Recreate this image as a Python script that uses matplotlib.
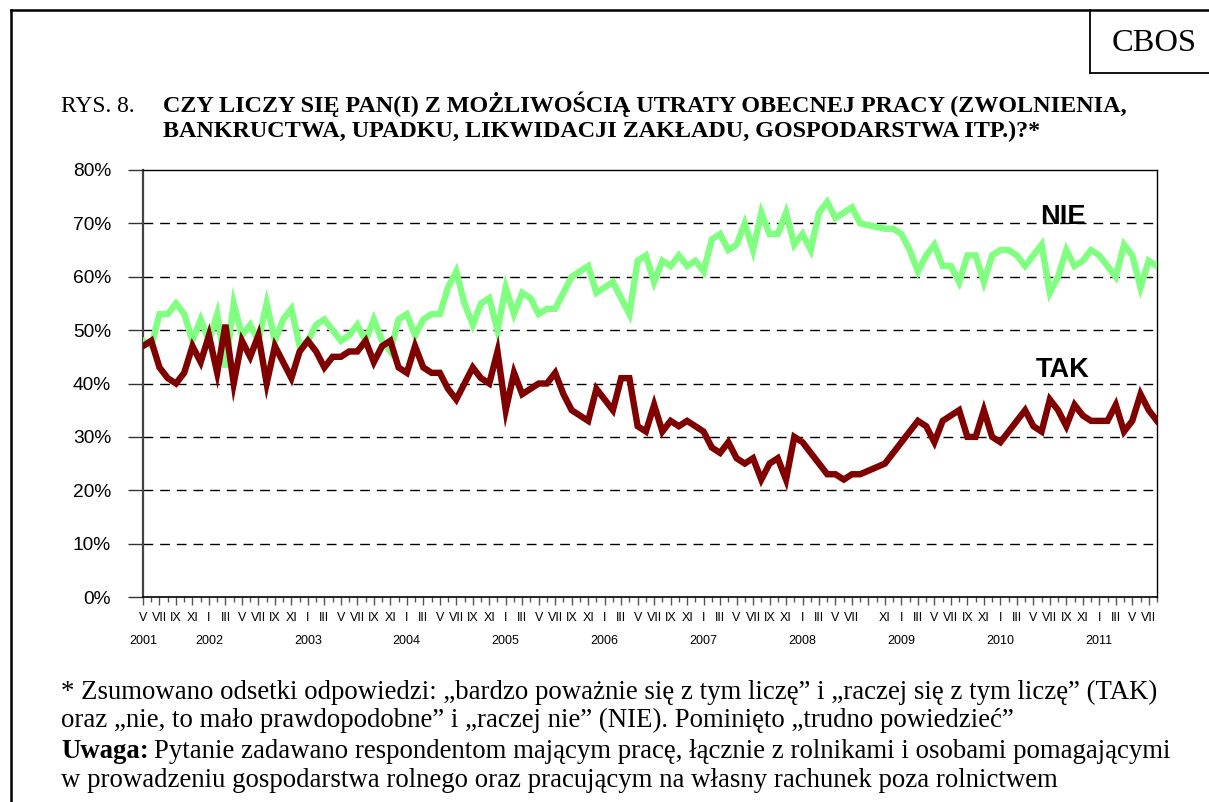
import numpy as np
import matplotlib
matplotlib.use("Agg")
import matplotlib.pyplot as plt
from matplotlib.lines import Line2D
import matplotlib.transforms as mtransforms

W, H = 1209, 802

# monthly surveys V 2001 .. VIII 2011 (IX and X 2008 missing)
roman = ["I", "II", "III", "IV", "V", "VI", "VII", "VIII", "IX", "X", "XI", "XII"]
start_year, start_month = 2001, 5
n_points = 124
skip_labels = [88]  # IX 2008 has no survey

nie = [48, 47, 53, 53, 55, 53, 48, 52, 48, 53, 43, 55, 49, 51, 48, 55, 48, 52, 54, 47,
       48, 51, 52, 50, 48, 49, 51, 48, 52, 48, 46, 52, 53, 49, 52, 53, 53, 58, 61, 55,
       51, 55, 56, 50, 58, 53, 57, 56, 53, 54, 54, 57, 60, 61, 62, 57, 58, 59, 56, 53,
       63, 64, 59, 63, 62, 64, 62, 63, 61, 67, 68, 65, 66, 70, 65, 72, 68, 68, 72, 66,
       68, 65, 72, 74, 71, 72, 73, 70, np.nan, np.nan, 69, 69, 68, 65, 61, 64, 66, 62, 62, 59,
       64, 64, 59, 64, 65, 65, 64, 62, 64, 66, 57, 60, 65, 62, 63, 65, 64, 62, 60, 66,
       64, 58, 63, 62]
tak = [47, 48, 43, 41, 40, 42, 47, 44, 49, 42, 51, 40, 48, 45, 49, 40, 47, 44, 41, 46,
       48, 46, 43, 45, 45, 46, 46, 48, 44, 47, 48, 43, 42, 47, 43, 42, 42, 39, 37, 40,
       43, 41, 40, 46, 35, 42, 38, 39, 40, 40, 42, 38, 35, 34, 33, 39, 37, 35, 41, 41,
       32, 31, 36, 31, 33, 32, 33, 32, 31, 28, 27, 29, 26, 25, 26, 22, 25, 26, 22, 30,
       29, 27, 25, 23, 23, 22, 23, 23, np.nan, np.nan, 25, 27, 29, 31, 33, 32, 29, 33, 34, 35,
       30, 30, 35, 30, 29, 31, 33, 35, 32, 31, 37, 35, 32, 36, 34, 33, 33, 33, 36, 31,
       33, 38, 35, 33]

month_labels = []
year_labels = {}
for i in range(n_points):
    m = (start_month - 1 + i) % 12
    y = start_year + (start_month - 1 + i) // 12
    month_labels.append(roman[m] if (i % 2 == 0 and i not in skip_labels) else "")
    if i == 0 or m == 0:
        year_labels[i] = str(y)

x = np.arange(n_points)
nie = np.array(nie, dtype=float)
tak = np.array(tak, dtype=float)

serif = "Liberation Serif"
sans = "Liberation Sans"

fig = plt.figure(figsize=(W / 100, H / 100), dpi=100)


def fx(px):
    return px / W


def fy(py):
    return 1 - py / H


ax = fig.add_axes([fx(143), fy(597), fx(1157) - fx(143), fy(170) - fy(597)])

ok = ~np.isnan(nie)
ax.plot(x[ok], nie[ok], color="#80ff80", lw=4.6, solid_joinstyle="miter", zorder=3)
ok = ~np.isnan(tak)
ax.plot(x[ok], tak[ok], color="#800000", lw=4.6, solid_joinstyle="miter", zorder=4)

ax.set_xlim(0, n_points - 1)
ax.set_ylim(0, 80)
ax.set_yticks(range(0, 81, 10))
ax.set_yticklabels([f"{v}%" for v in range(0, 81, 10)], fontsize=13.8, family=sans)
for v in range(10, 80, 10):
    ax.axhline(v, color="black", lw=1.0, ls=(0, (7, 5)), zorder=1)

ax.set_xticks(x[::2])
ax.set_xticklabels([month_labels[i] for i in x[::2]], fontsize=9, family=sans)
ax.set_xticks(x[1::2], minor=True)
ax.tick_params(axis="x", which="major", length=6, width=1, color="#555555", pad=5)
ax.tick_params(axis="x", which="minor", length=3.5, width=1, color="#555555")
ax.tick_params(axis="y", length=11, width=1, color="#333333", pad=12)

yr_tr = mtransforms.blended_transform_factory(ax.transData, ax.transAxes)
for i, lab in year_labels.items():
    ax.text(i, -0.103, lab, transform=yr_tr, ha="center", va="center", fontsize=9, family=sans)

for side in ["top", "right"]:
    ax.spines[side].set_linewidth(1.0)
ax.spines["left"].set_linewidth(1.6)
ax.spines["left"].set_color("#444444")
ax.spines["bottom"].set_linewidth(1.2)

ax.text(111.6, 71.2, "NIE", ha="center", va="center", fontsize=19.5, fontweight="bold", family=sans)
ax.text(111.6, 42.5, "TAK", ha="center", va="center", fontsize=19.5, fontweight="bold", family=sans)

# outer frame and CBOS box
fig.add_artist(Line2D([fx(11), fx(11)], [fy(10), 0], color="black", lw=1.8))
fig.add_artist(Line2D([fx(11), 1], [fy(10), fy(10)], color="black", lw=1.8))
fig.add_artist(Line2D([fx(1090), fx(1090)], [fy(10), fy(73)], color="black", lw=1.3))
fig.add_artist(Line2D([fx(1090), 1], [fy(73), fy(73)], color="black", lw=1.3))
fig.text(fx(1154), fy(51), "CBOS", ha="center", va="baseline", fontsize=23.4, family=serif)

fig.text(fx(61), fy(112), "RYS. 8.", ha="left", va="baseline", fontsize=16.8, family=serif)
fig.text(fx(163), fy(112), "CZY LICZY SIĘ PAN(I) Z MOŻLIWOŚCIĄ UTRATY OBECNEJ PRACY (ZWOLNIENIA,",
         ha="left", va="baseline", fontsize=17.4, fontweight="bold", family=serif)
fig.text(fx(163), fy(137), "BANKRUCTWA, UPADKU, LIKWIDACJI ZAKŁADU, GOSPODARSTWA ITP.)?*",
         ha="left", va="baseline", fontsize=17.4, fontweight="bold", family=serif)

fs = 19.3
fig.text(fx(61), fy(699), "* Zsumowano odsetki odpowiedzi: \u201ebardzo poważnie się z tym liczę\u201d i "
         "\u201eraczej się z tym liczę\u201d (TAK)", ha="left", va="baseline", fontsize=fs, family=serif)
fig.text(fx(61), fy(727), "oraz \u201enie, to mało prawdopodobne\u201d i \u201eraczej nie\u201d (NIE). "
         "Pominięto \u201etrudno powiedzieć\u201d", ha="left", va="baseline", fontsize=fs, family=serif)
uw = fig.text(fx(61), fy(758), "Uwaga:", ha="left", va="baseline", fontsize=fs, fontweight="bold", family=serif)
fig.canvas.draw()
bb = uw.get_window_extent()
fig.text(bb.x1 / W + fx(5), fy(758), "Pytanie zadawano respondentom mającym pracę, łącznie z rolnikami "
         "i osobami pomagającymi", ha="left", va="baseline", fontsize=fs, family=serif)
fig.text(fx(61), fy(787), "w prowadzeniu gospodarstwa rolnego oraz pracującym na własny rachunek poza rolnictwem",
         ha="left", va="baseline", fontsize=fs, family=serif)

fig.savefig("out.png", dpi=100)
